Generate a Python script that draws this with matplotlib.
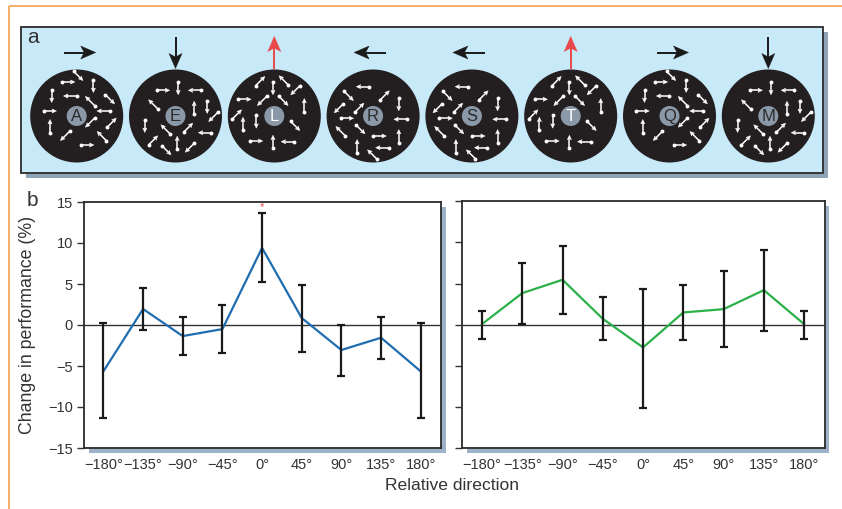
import matplotlib
matplotlib.use('Agg')
import matplotlib.pyplot as plt
from matplotlib.patches import Rectangle, Circle, Polygon
import numpy as np

plt.rcParams['font.family'] = ['Liberation Sans', 'DejaVu Sans']

# ---------------- data ----------------
directions = [-180, -135, -90, -45, 0, 45, 90, 135, 180]
tick_labels = ['\u2212180\u00b0', '\u2212135\u00b0', '\u221290\u00b0', '\u221245\u00b0',
               '0\u00b0', '45\u00b0', '90\u00b0', '135\u00b0', '180\u00b0']
yticks = [-15, -10, -5, 0, 5, 10, 15]
ytick_labels = ['\u221215', '\u221210', '\u22125', '0', '5', '10', '15']

left_mean = [-5.65, 1.95, -1.35, -0.5, 9.4, 0.85, -3.05, -1.55, -5.65]
left_upper = [0.2, 4.55, 0.93, 2.48, 13.66, 4.92, 0.0, 1.02, 0.2]
left_lower = [-11.4, -0.65, -3.66, -3.41, 5.2, -3.33, -6.18, -4.15, -11.4]

right_mean = [0.08, 3.85, 5.47, 0.73, -2.75, 1.5, 1.9, 4.21, 0.08]
right_upper = [1.66, 7.53, 9.55, 3.36, 4.37, 4.78, 6.52, 9.07, 1.66]
right_lower = [-1.70, 0.12, 1.34, -1.86, -10.08, -1.82, -2.75, -0.73, -1.70]

stim_letters = ['A', 'E', 'L', 'R', 'S', 'T', 'Q', 'M']
stim_motion = ['right', 'down', 'up', 'left', 'left', 'up', 'right', 'down']
stim_target = [False, False, True, False, False, True, False, False]
stim_pattern = ['p1', 'p2', 'p3', 'p4', 'p4', 'p3', 'p1', 'p2']

# dot-arrow patterns inside the discs: (dx, dy, direction code)
patterns = {
    'p1': [(1.7, -40, 'SE'), (-8.3, -34, 'E'), (16.7, -30, 'S'), (-25, -20, 'S'),
           (-6.7, -20, 'W'), (33.3, -16.7, 'SE'), (13.3, -15, 'NW'), (-26.7, -5, 'E'),
           (26.7, -5, 'W'), (13.3, 6.7, 'SW'), (-26.7, 10, 'N'), (35, 6.7, 'NE'),
           (-11.7, 20, 'SW'), (25, 20, 'NW'), (10.7, 29, 'E')],
    'p2': [(-12.3, -25.7, 'E'), (2.7, -27.7, 'S'), (19.3, -25.7, 'W'), (-22.3, -11.7, 'NW'),
           (18.7, -8.3, 'N'), (31.7, -9, 'S'), (37.7, 1, 'SW'), (-30.7, 10, 'S'),
           (-10, 13.3, 'NW'), (12.7, 11.7, 'NE'), (29.3, 16.7, 'W'), (-22.3, 24.3, 'NE'),
           (1.7, 26.7, 'N'), (-9, 34.3, 'SE'), (14.3, 31.7, 'SW')],
    'p3': [(-14, -35, 'NE'), (-1.3, -27.7, 'S'), (9.3, -35.7, 'NW'), (21, -25.7, 'SW'),
           (-29.7, -16.7, 'E'), (-12.3, -15, 'SW'), (9.3, -15, 'SE'), (30, -11, 'N'),
           (-37.3, -1.7, 'NE'), (-31.3, 7.7, 'N'), (-18, 5.7, 'S'), (21, 10, 'SE'),
           (-18, 25, 'E'), (-1.3, 25.7, 'N'), (13.3, 25.7, 'W')],
    'p4': [(-10.3, -29.3, 'W'), (-24.3, -20, 'SE'), (11.7, -20.7, 'NE'), (25.7, -11.7, 'S'),
           (-34.3, -7.7, 'SW'), (-13.7, -8.3, 'NE'), (-26, 2.3, 'E'), (27.3, 3.3, 'W'),
           (-32.7, 15, 'NW'), (-12.7, 13.3, 'SE'), (6.7, 20, 'E'), (25.7, 20, 'N'),
           (-16, 30, 'N'), (9, 31.7, 'W'), (-1, 38.3, 'NW')],
}
code_angle = {'E': 0, 'NE': 45, 'N': 90, 'NW': 135, 'W': 180, 'SW': 225, 'S': 270, 'SE': 315}
motion_vec = {'right': (1, 0), 'left': (-1, 0), 'up': (0, -1), 'down': (0, 1)}

# ---------------- figure ----------------
W, H = 842, 509
fig = plt.figure(figsize=(W / 100, H / 100), dpi=100)
bg = fig.add_axes([0, 0, 1, 1], zorder=0)
bg.set_xlim(0, W)
bg.set_ylim(H, 0)
bg.axis('off')


def draw_arrow(ax, tail, tip, color, lw, head_len, head_w, notch):
    tail = np.array(tail, float)
    tip = np.array(tip, float)
    u = (tip - tail) / np.linalg.norm(tip - tail)
    n = np.array([-u[1], u[0]])
    base = tip - head_len * u
    nb = tip - (head_len - notch) * u
    ax.plot([tail[0], nb[0]], [tail[1], nb[1]], color=color, lw=lw,
            solid_capstyle='butt')
    ax.add_patch(Polygon([tip, base + 0.5 * head_w * n, nb, base - 0.5 * head_w * n],
                         closed=True, fc=color, ec=color, lw=0.3))


orange = '#f5a04a'
bg.plot([8.5, W], [6, 6], color=orange, lw=1.2, solid_capstyle='butt')
bg.plot([8.5, 8.5], [6, H], color=orange, lw=1.2, solid_capstyle='butt')

# panel a box
bx0, by0, bx1, by1 = 20.7, 27.3, 823.3, 173.3
bg.add_patch(Rectangle((bx0 + 5, by0 + 5), bx1 - bx0, by1 - by0, fc='#8ea3b6', ec='none'))
bg.add_patch(Rectangle((bx0, by0), bx1 - bx0, by1 - by0, fc='#c7e9f8', ec='#2b2b2b', lw=1.3))
bg.text(27, 37, 'a', fontsize=15, color='#333333', ha='left', va='center')

cy = 116
for i, (let, mot, tgt, pat) in enumerate(zip(stim_letters, stim_motion, stim_target, stim_pattern)):
    cx = 76.7 + i * 98.8
    bg.add_patch(Circle((cx, cy), 46.5, fc='#231f20', ec='none'))
    bg.add_patch(Circle((cx, cy), 10, fc='#8a98a8', ec='none'))
    bg.text(cx, cy + 0.5, let, fontsize=12, color='white' if tgt else '#2a2a2a',
            ha='center', va='center')
    for dx, dy, code in patterns[pat]:
        a = np.deg2rad(code_angle[code])
        ux, uy = np.cos(a), -np.sin(a)
        px, py = cx + dx, cy + dy
        tail = (px - 6.5 * ux, py - 6.5 * uy)
        tip = (px + 6.5 * ux, py + 6.5 * uy)
        draw_arrow(bg, tail, tip, 'white', 1.1, 4.5, 4.2, 1.0)
        bg.plot(tail[0], tail[1], 'o', ms=2.8, color='white', mec='none')
    ux, uy = motion_vec[mot]
    col = '#e8484a' if tgt else '#1a1a1a'
    mx, my = cx + 3 * ux, 52.5
    draw_arrow(bg, (mx - 16 * ux, my - 16 * uy), (mx + 16 * ux, my + 16 * uy),
               col, 1.4, 15, 13, 3.5)

# panel b
bg.text(27, 200, 'b', fontsize=15, color='#333333', ha='left', va='center')


def px_axes(x0, y0, x1, y1):
    return [x0 / W, 1 - y1 / H, (x1 - x0) / W, (y1 - y0) / H]


boxes = [(84, 202, 441, 448), (462.3, 201.3, 824.7, 448.3)]
for (x0, y0, x1, y1) in boxes:
    bg.add_patch(Rectangle((x0 + 4.5, y0 + 4.5), x1 - x0, y1 - y0, fc='#9fb3c8', ec='none'))

ax1 = fig.add_axes(px_axes(*boxes[0]), zorder=1)
ax2 = fig.add_axes(px_axes(*boxes[1]), zorder=1)

series = [(ax1, left_mean, left_upper, left_lower, '#1f6db0'),
          (ax2, right_mean, right_upper, right_lower, '#2bb04a')]
txt = '#333333'
for ax, m, up, lo, col in series:
    m = np.array(m); up = np.array(up); lo = np.array(lo)
    ax.set_facecolor('white')
    ax.axhline(0, color='#333333', lw=1.0, zorder=1)
    ax.plot(directions, m, color=col, lw=1.6, zorder=2)
    ax.errorbar(directions, m, yerr=[m - lo, up - m], fmt='none', ecolor='#1a1a1a',
                elinewidth=1.6, capsize=3.2, capthick=1.6, zorder=3)
    ax.set_xlim(-202, 203)
    ax.set_ylim(-15, 15)
    ax.set_xticks(directions)
    ax.set_xticklabels(tick_labels, fontsize=10.5, color=txt)
    ax.set_yticks(yticks)
    ax.tick_params(axis='x', length=0, pad=7)
    ax.tick_params(axis='y', length=5, width=1.0, color='#333333', pad=3, direction='out')
    for s in ax.spines.values():
        s.set_color('#2b2b2b')
        s.set_linewidth(1.3)

ax1.set_yticklabels(ytick_labels, fontsize=10.5, color=txt)
ax2.tick_params(axis='y', labelleft=False)
ax1.text(0, 14.4, '*', color='#e8484a', fontsize=8, ha='center', va='center')

fig.text(28 / W, 1 - 325 / H, 'Change in performance (%)', rotation=90, fontsize=12.8,
         color=txt, ha='center', va='center')
fig.text(452 / W, 1 - 486 / H, 'Relative direction', fontsize=12.6, color=txt,
         ha='center', va='center')

fig.savefig('out.png', dpi=100)
